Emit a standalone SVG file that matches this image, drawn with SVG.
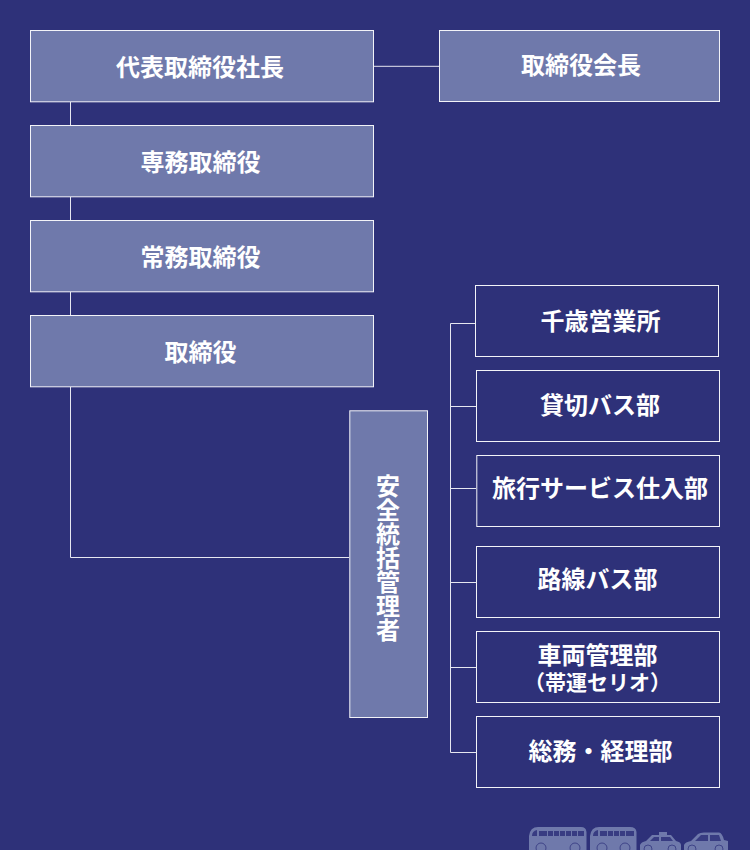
<svg xmlns="http://www.w3.org/2000/svg" width="750" height="850" viewBox="0 0 750 850">
<style>
.a{fill:#6f79ab;stroke:#f2f3f8;stroke-width:1}
.b{fill:#2e3179;stroke:#f2f3f8;stroke-width:1}
.t{font-family:"Noto Sans CJK JP","Liberation Sans",sans-serif;font-weight:700;font-size:24px;fill:#fff;text-anchor:middle}
.s{font-size:21px}
.c{fill:none;stroke:#e6e7f0;stroke-width:1}
.v{fill:#6f79ab}
.w{fill:#383c82}
.r{fill:#6f79ab;stroke:#3f4488;stroke-width:1}
</style>
<rect width="750" height="850" fill="#2e3179"/>
<g id="connectors">
<path class="c" d="M374 66.300H439M70.500 102V125M70.500 197V220M70.500 292V315M70.500 387V557.500H349"/>
<path class="c" d="M450.500 323.500V752.500M450.500 323.500H475M450.500 406.500H476M450.500 488.500H476M450.500 582.500H476M450.500 667.500H476M450.500 752.500H476"/>
</g>
<g id="president"><rect class="a" x="30.500" y="30.500" width="343" height="71.300"/><text class="t" x="200" y="75.500">代表取締役社長</text></g>
<g id="chairman"><rect class="a" x="439.500" y="30.500" width="280" height="71"/><text class="t" x="581" y="74">取締役会長</text></g>
<g id="senior-md"><rect class="a" x="30.500" y="125.500" width="343" height="71.300"/><text class="t" x="200.500" y="170.500">専務取締役</text></g>
<g id="md"><rect class="a" x="30.500" y="220.500" width="343" height="71.300"/><text class="t" x="200.500" y="265.500">常務取締役</text></g>
<g id="director"><rect class="a" x="30.500" y="315.500" width="343" height="71.300"/><text class="t" x="200.500" y="360.500">取締役</text></g>
<g id="safety"><rect class="a" x="349.800" y="410.800" width="77.700" height="306.700"/><text class="t" x="388" y="474" style="writing-mode:vertical-rl;text-orientation:upright;text-anchor:start">安全統括管理者</text></g>
<g id="chitose"><rect class="b" x="475.500" y="285.500" width="243" height="71"/><text class="t" x="600.500" y="329.500">千歳営業所</text></g>
<g id="charter"><rect class="b" x="476.500" y="370.500" width="243" height="71"/><text class="t" x="600" y="414">貸切バス部</text></g>
<g id="travel"><rect class="b" x="476.800" y="455.500" width="242.700" height="71"/><text class="t" x="600" y="497">旅行サービス仕入部</text></g>
<g id="route"><rect class="b" x="476.500" y="546.500" width="243" height="71"/><text class="t" x="597.500" y="588">路線バス部</text></g>
<g id="vehicle"><rect class="b" x="476.500" y="631.500" width="243" height="71"/><text class="t"><tspan x="597.500" y="664">車両管理部</tspan><tspan class="s" x="597.500" y="689.500">（帯運セリオ）</tspan></text></g>
<g id="general"><rect class="b" x="476.500" y="716.500" width="243" height="71"/><text class="t" x="600.500" y="760">総務・経理部</text></g>
<g id="vehicles">
<path class="v" d="M529 850V836Q530 827 538 827H581Q586 827 586.500 832V850Z"/>
<path class="w" d="M532 836Q532 831 537 830V836ZM539 831H584V836H539Z"/>
<path class="v" d="M590 850V836Q591 827 599 827H630Q636 827 636.500 832V850Z"/>
<path class="w" d="M593 836Q593 831 598 830V836ZM600 831H634V836H600Z"/>
<path class="v" d="M640 850V845Q641 842 646 841L652 835H659V832H667V835H671L676 841Q681 842 681 845V850Z"/>
<path class="w" d="M650 841L654 837H659V841ZM661 837H670L673 841H661Z"/>
<path class="v" d="M684 850V845Q685 842 691 841L698 834Q700 832.500 704 832.500H719Q722 832.500 724 840L728 841V850Z"/>
<path class="w" d="M695 841L701 835H708V841ZM710 835H719L721 841H710Z"/>
<g class="v"><path d="M547 830h1v7h-1zM553 830h1v7h-1zM559 830h1v7h-1zM565 830h1v7h-1zM571 830h1v7h-1zM577 830h1v7h-1zM607 830h1v7h-1zM613 830h1v7h-1zM619 830h1v7h-1zM625 830h1v7h-1z"/></g>
<g class="r"><circle cx="541" cy="848" r="5"/><circle cx="575" cy="848" r="5"/><circle cx="602" cy="848" r="5"/><circle cx="625" cy="848" r="5"/><circle cx="648" cy="849" r="4"/><circle cx="672" cy="849" r="4"/><circle cx="692" cy="849" r="4"/><circle cx="719" cy="849" r="4"/></g>
</g>
</svg>
